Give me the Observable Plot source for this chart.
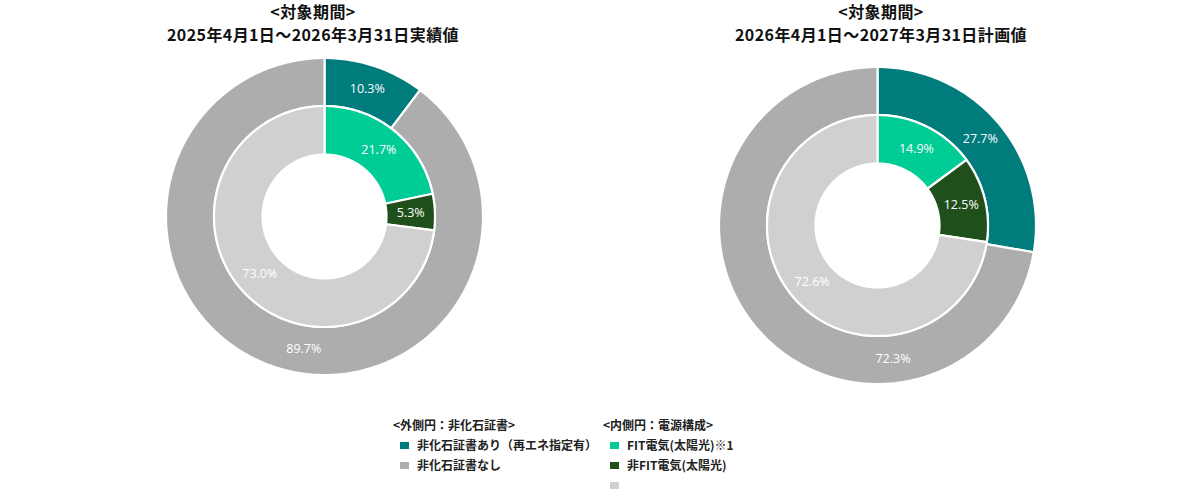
<!DOCTYPE html>
<html>
<head>
<meta charset="utf-8">
<script src="https://cdn.jsdelivr.net/npm/d3@7"></script>
<script src="https://cdn.jsdelivr.net/npm/@observablehq/plot@0.6"></script>
<style>
  html, body { margin: 0; padding: 0; background: #fff; }
  #root { position: relative; width: 1200px; height: 500px; overflow: hidden; font-family: "Noto Sans CJK JP", sans-serif; color: #111; }
  .title { position: absolute; width: 440px; text-align: center; font-weight: bold; font-size: 16px; letter-spacing: 0.4px; line-height: 23px; }
  .pie { position: absolute; }
  .legend { position: absolute; font-size: 12px; font-weight: bold; color: #222; }
  .legend .head { height: 20px; line-height: 20px; }
  .legend .item { height: 20px; line-height: 20px; display: flex; align-items: center; }
  .legend .sw { width: 9px; height: 7px; margin-left: 7px; margin-right: 8px; flex: none; }
</style>
</head>
<body>
<div id="root"></div>
<script>
// ---------- data ----------
const periodHeader = "<対象期間>";
const periods = ["2025年4月1日～2026年3月31日実績値", "2026年4月1日～2027年3月31日計画値"];

const outerCategories = ["非化石証書あり（再エネ指定有）", "非化石証書なし"];
const outerValues = [
  [10.3, 89.7],
  [27.7, 72.3]
];
const innerCategories = ["FIT電気(太陽光)※1", "非FIT電気(太陽光)", ""];
const innerValues = [
  [21.7, 5.3, 73.0],
  [14.9, 12.5, 72.6]
];
const outerLegendTitle = "<外側円：非化石証書>";
const innerLegendTitle = "<内側円：電源構成>";

// ---------- styles / layout ----------
const outerColors = ["#007C7C", "#ADADAD"];
const innerColors = ["#00CC96", "#1F4F1B", "#D0D0D0"];
const R_OUT = 158.5, R_MID = 110.5, R_IN = 62;
const pieCenters = [[324, 215.5], [877, 225]];
const titleCenters = [313, 881];
// label position within slice (fraction of the slice's angular span), default 0.5
const labelFrac = [[[0.5, 0.47], [0.5, 0.5, 0.5]], [[0.5, 0.283], [0.5, 0.5, 0.5]]];
const HALF = 170;

function arcPolygon(f0, f1, r0, r1) {
  const a0 = f0 * 2 * Math.PI, a1 = f1 * 2 * Math.PI;
  const n = Math.max(2, Math.ceil((f1 - f0) * 360));
  const pts = [];
  for (let i = 0; i <= n; i++) {
    const a = a0 + (a1 - a0) * i / n;
    pts.push({x: r1 * Math.sin(a), y: r1 * Math.cos(a)});
  }
  for (let i = n; i >= 0; i--) {
    const a = a0 + (a1 - a0) * i / n;
    pts.push({x: r0 * Math.sin(a), y: r0 * Math.cos(a)});
  }
  pts.push(pts[0]);
  return pts;
}

function ringMarks(values, colors, r0, r1, fracs) {
  const total = d3.sum(values);
  const marks = [];
  const labels = [];
  let acc = 0;
  values.forEach((v, i) => {
    const f0 = acc / total, f1 = (acc + v) / total;
    acc += v;
    marks.push(Plot.line(arcPolygon(f0, f1, r0, r1), {
      x: "x", y: "y", fill: colors[i], stroke: "#fff", strokeWidth: 2.2, strokeLinejoin: "miter", curve: "linear"
    }));
    const fm = f0 + (f1 - f0) * fracs[i];
    const rm = (r0 + r1) / 2;
    labels.push({x: rm * Math.sin(fm * 2 * Math.PI), y: rm * Math.cos(fm * 2 * Math.PI), text: v.toFixed(1) + "%"});
  });
  return {marks, labels};
}

const root = document.getElementById("root");

periods.forEach((p, k) => {
  const t = document.createElement("div");
  t.className = "title";
  t.style.left = (titleCenters[k] - 220) + "px";
  t.style.top = "0px";
  t.innerHTML = `<div>${periodHeader.replace("<", "&lt;").replace(">", "&gt;")}</div><div>${p}</div>`;
  root.appendChild(t);

  const outer = ringMarks(outerValues[k], outerColors, R_MID, R_OUT, labelFrac[k][0]);
  const inner = ringMarks(innerValues[k], innerColors, R_IN, R_MID, labelFrac[k][1]);
  const chart = Plot.plot({
    width: HALF * 2, height: HALF * 2,
    margin: 0,
    x: {domain: [-HALF, HALF], axis: null},
    y: {domain: [-HALF, HALF], axis: null},
    marks: [
      ...outer.marks,
      ...inner.marks,
      Plot.text([...outer.labels, ...inner.labels], {
        x: "x", y: "y", text: "text", fill: "#fff", fontSize: 12.5,
        fontFamily: "Open Sans, sans-serif", textAnchor: "middle"
      })
    ],
    style: {background: "transparent", overflow: "visible"}
  });
  chart.classList.add("pie");
  chart.style.left = (pieCenters[k][0] - HALF) + "px";
  chart.style.top = (pieCenters[k][1] - HALF) + "px";
  root.appendChild(chart);
});

function legendBlock(title, cats, colors, left) {
  const d = document.createElement("div");
  d.className = "legend";
  d.style.left = left + "px";
  d.style.top = "415px";
  const h = document.createElement("div");
  h.className = "head";
  h.textContent = title;
  d.appendChild(h);
  cats.forEach((c, i) => {
    const it = document.createElement("div");
    it.className = "item";
    const sw = document.createElement("span");
    sw.className = "sw";
    sw.style.background = colors[i];
    const tx = document.createElement("span");
    tx.textContent = c;
    it.appendChild(sw);
    it.appendChild(tx);
    d.appendChild(it);
  });
  root.appendChild(d);
}
legendBlock(outerLegendTitle, outerCategories, outerColors, 393);
legendBlock(innerLegendTitle, innerCategories, innerColors, 603);
</script>
</body>
</html>
